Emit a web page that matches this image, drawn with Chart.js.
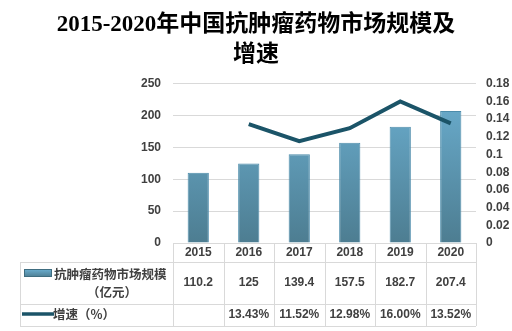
<!DOCTYPE html>
<html>
<head>
<meta charset="utf-8">
<script src="https://cdn.jsdelivr.net/npm/chart.js@4"></script>
<style>
  html, body { margin: 0; padding: 0; background: #fff; }
  #wrap { width: 512px; height: 331px; }
</style>
</head>
<body>
<div id="wrap"><canvas id="c" width="512" height="331"></canvas></div>
<script>
const years = ['2015', '2016', '2017', '2018', '2019', '2020'];
const marketSize = [110.2, 125, 139.4, 157.5, 182.7, 207.4];
const growth = [null, 0.1343, 0.1152, 0.1298, 0.16, 0.1352];
const growthLabels = ['', '13.43%', '11.52%', '12.98%', '16.00%', '13.52%'];
const sizeLabels = ['110.2', '125', '139.4', '157.5', '182.7', '207.4'];

const barName = '抗肿瘤药物市场规模';
const barUnit = '（亿元）';
const lineName = '增速（%）';

const tickFont = { family: 'Liberation Sans, Arial, sans-serif', size: 12, weight: 'bold' };
const textColor = '#404040';
const gridColor = '#d9d9d9';

function barGradient(context) {
  const area = context.chart.chartArea;
  if (!area) return '#5b9bbb';
  const g = context.chart.ctx.createLinearGradient(0, area.top, 0, area.bottom);
  g.addColorStop(0, '#6cb0d2');
  g.addColorStop(1, '#4d7d91');
  return g;
}

// draws the data table under the plot
const tablePlugin = {
  id: 'dataTable',
  afterDraw(chart) {
    const ctx = chart.ctx;
    const x = chart.scales.x;
    const area = chart.chartArea;
    const left = 20, top = area.bottom, r1 = 262, r2 = 304, r3 = 326;
    const colW = (area.right - area.left) / years.length;

    ctx.save();
    ctx.strokeStyle = gridColor;
    ctx.lineWidth = 1;
    ctx.beginPath();
    for (let i = 0; i <= years.length; i++) {
      const px = Math.round(area.left + i * colW) + 0.5;
      ctx.moveTo(px, top);
      ctx.lineTo(px, r3);
    }
    ctx.moveTo(left + 0.5, r1);
    ctx.lineTo(left + 0.5, r3);
    [r1, r2, r3].forEach(y => {
      ctx.moveTo(left, y + 0.5);
      ctx.lineTo(area.right, y + 0.5);
    });
    ctx.stroke();

    ctx.fillStyle = textColor;
    ctx.textAlign = 'center';
    ctx.textBaseline = 'middle';
    ctx.font = 'bold 12px Liberation Sans, Arial, sans-serif';
    years.forEach((yr, i) => {
      const px = x.getPixelForValue(i);
      ctx.fillText(yr, px, 253);
      ctx.fillText(sizeLabels[i], px, 283);
      ctx.fillText(growthLabels[i], px, 315);
    });

    // legend keys
    const g = ctx.createLinearGradient(0, 269, 0, 277);
    g.addColorStop(0, '#6cb0d2');
    g.addColorStop(1, '#4d7d91');
    ctx.fillStyle = g;
    ctx.fillRect(24, 269, 28, 8);
    ctx.strokeStyle = '#3f6d80';
    ctx.strokeRect(24.5, 269.5, 27, 7);

    ctx.strokeStyle = '#1b5468';
    ctx.lineWidth = 3.5;
    ctx.beginPath();
    ctx.moveTo(22, 314);
    ctx.lineTo(54, 314);
    ctx.stroke();

    ctx.fillStyle = textColor;
    ctx.font = 'bold 12.5px "Noto Sans CJK SC", sans-serif';
    ctx.textAlign = 'left';
    ctx.fillText(barName, 54, 274);
    ctx.textAlign = 'center';
    ctx.fillText(barUnit, 112, 292);
    ctx.textAlign = 'left';
    ctx.fillText(lineName, 53, 314);
    ctx.restore();
  }
};

new Chart(document.getElementById('c').getContext('2d'), {
  data: {
    labels: years,
    datasets: [
      {
        type: 'line',
        label: lineName,
        data: growth,
        yAxisID: 'y1',
        borderColor: '#1b5468',
        borderWidth: 4,
        pointRadius: 0,
        tension: 0,
        order: 0
      },
      {
        type: 'bar',
        label: barName + barUnit,
        data: marketSize,
        yAxisID: 'y',
        backgroundColor: barGradient,
        borderColor: '#4c8cab',
        borderWidth: 1,
        categoryPercentage: 0.42,
        barPercentage: 1,
        order: 1
      }
    ]
  },
  options: {
    responsive: false,
    animation: false,
    layout: { padding: { top: 0, bottom: 88, left: 0, right: 0 } },
    plugins: {
      legend: { display: false },
      tooltip: { enabled: false },
      title: {
        display: true,
        text: ['2015-2020年中国抗肿瘤药物市场规模及', '增速'],
        color: '#000',
        font: { family: 'Liberation Serif, "Noto Sans CJK SC", serif', size: 23, weight: 'bold', lineHeight: 1.3 },
        padding: { top: 10, bottom: 14 }
      }
    },
    scales: {
      x: { display: false },
      y: {
        position: 'left',
        min: 0, max: 250,
        ticks: { stepSize: 50, color: textColor, font: tickFont, padding: 12 },
        grid: { color: gridColor, drawTicks: false },
        border: { display: false },
        afterFit(s) { s.width = 173; }
      },
      y1: {
        position: 'right',
        min: 0, max: 0.18,
        ticks: { stepSize: 0.02, color: textColor, font: tickFont, padding: 10,
          callback: v => String(Math.round(v * 100) / 100) },
        grid: { display: false, drawTicks: false },
        border: { display: false },
        afterFit(s) { s.width = 36; }
      }
    }
  },
  plugins: [tablePlugin]
});
</script>
</body>
</html>
